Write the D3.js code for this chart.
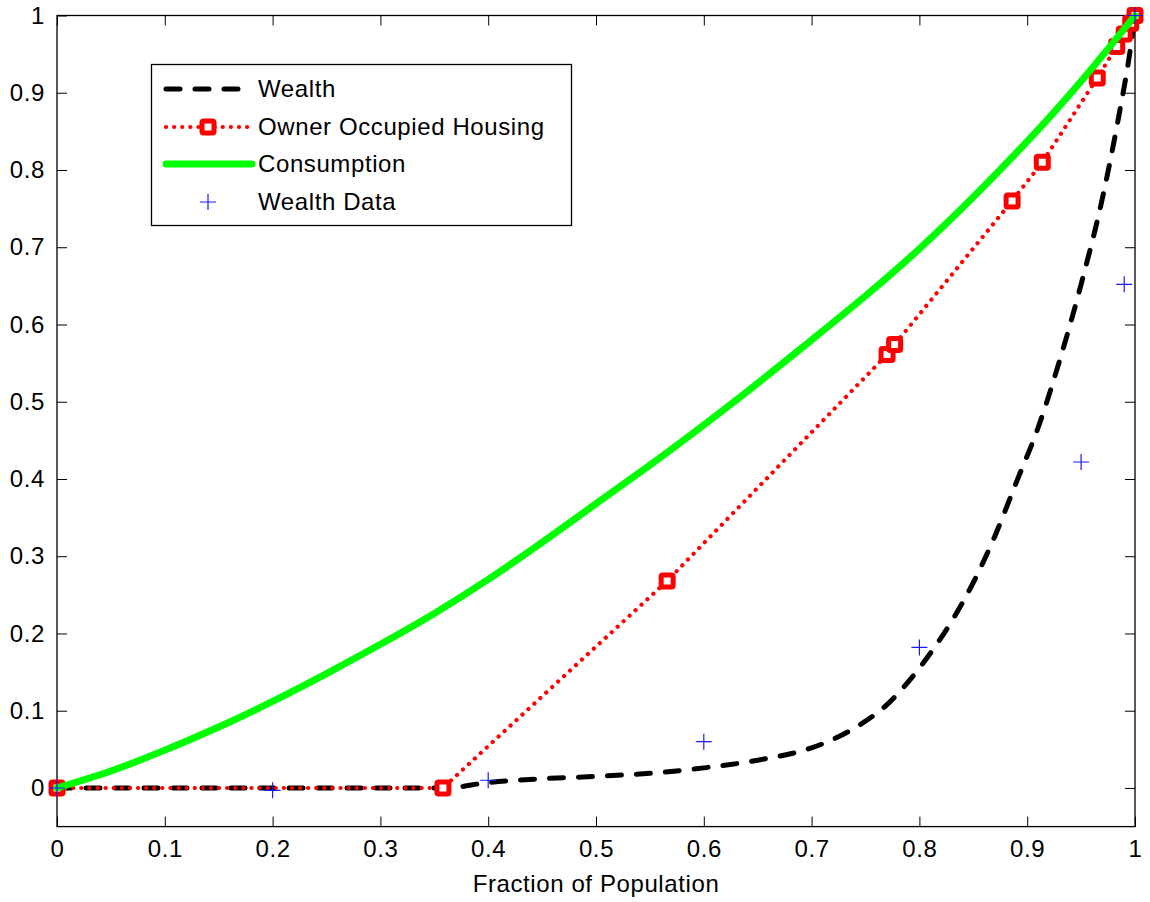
<!DOCTYPE html>
<html>
<head>
<meta charset="utf-8">
<script src="https://cdn.jsdelivr.net/npm/d3@7"></script>
<style>
  html, body { margin: 0; padding: 0; background: #fff; }
  svg { display: block; }
  text { font-family: Arial, "Liberation Sans", sans-serif; fill: #000; letter-spacing: 0.6px; }
</style>
</head>
<body>
<svg id="chart" width="1150" height="902"></svg>
<script>
// Lorenz curves: fraction of population vs. cumulative share
const consumptionX = [0, 0.05, 0.1, 0.15, 0.2, 0.25, 0.3, 0.35, 0.4, 0.45, 0.5, 0.55, 0.6, 0.65, 0.7, 0.75, 0.8, 0.85, 0.9, 0.95, 1];
const consumptionY = [0, 0.022, 0.049, 0.079, 0.112, 0.148, 0.186, 0.226, 0.270, 0.318, 0.368, 0.418, 0.470, 0.524, 0.580, 0.637, 0.698, 0.765, 0.837, 0.915, 1];

const wealthX = [0, 0.36, 0.4, 0.45, 0.5, 0.55, 0.6, 0.65, 0.7, 0.72, 0.745, 0.77, 0.79, 0.81, 0.83, 0.85, 0.87, 0.89, 0.91, 0.93, 0.95, 0.97, 0.985, 0.995, 1];
const wealthY = [0, 0, 0.007, 0.012, 0.015, 0.019, 0.026, 0.036, 0.052, 0.063, 0.082, 0.108, 0.138, 0.174, 0.216, 0.266, 0.326, 0.396, 0.466, 0.553, 0.652, 0.765, 0.870, 0.950, 1];

const housingX = [0, 0.358, 0.566, 0.770, 0.777, 0.886, 0.914, 0.965, 0.983, 0.990, 0.996, 1];
const housingY = [0, 0, 0.268, 0.561, 0.574, 0.760, 0.810, 0.919, 0.960, 0.976, 0.990, 1];

const wealthDataX = [0, 0.2, 0.4, 0.6, 0.8, 0.95, 0.99, 1];
const wealthDataY = [0, -0.003, 0.01, 0.06, 0.182, 0.422, 0.652, 1];

const xTicks = [0, 0.1, 0.2, 0.3, 0.4, 0.5, 0.6, 0.7, 0.8, 0.9, 1];
const yTicks = [0, 0.1, 0.2, 0.3, 0.4, 0.5, 0.6, 0.7, 0.8, 0.9, 1];
const legendLabels = ["Wealth", "Owner Occupied Housing", "Consumption", "Wealth Data"];

const svg = d3.select("#chart");
const plotLeft = 57, plotRight = 1135, plotTop = 15.5, plotBottom = 826.6;
const fontSize = 24;

const x = d3.scaleLinear().domain([0, 1]).range([plotLeft, plotRight]);
const y = d3.scaleLinear().domain([-0.05, 1]).range([plotBottom, plotTop]);

const pts = (xs, ys) => xs.map((v, i) => [v, ys[i]]);
const line = d3.line().x(d => x(d[0])).y(d => y(d[1]));

// Axes box with inward ticks on all four sides
const tickLen = 10;
const fmt = d => d3.format("")(+d.toFixed(1));

const axB = svg.append("g").attr("transform", `translate(0,${plotBottom})`)
  .call(d3.axisBottom(x).tickValues(xTicks).tickSizeInner(-tickLen).tickSizeOuter(0).tickPadding(13).tickFormat(fmt));
const axT = svg.append("g").attr("transform", `translate(0,${plotTop})`)
  .call(d3.axisTop(x).tickValues(xTicks).tickSizeInner(-tickLen).tickSizeOuter(0).tickFormat(""));
const axL = svg.append("g").attr("transform", `translate(${plotLeft},0)`)
  .call(d3.axisLeft(y).tickValues(yTicks).tickSizeInner(-tickLen).tickSizeOuter(0).tickPadding(12).tickFormat(fmt));
const axR = svg.append("g").attr("transform", `translate(${plotRight},0)`)
  .call(d3.axisRight(y).tickValues(yTicks).tickSizeInner(-tickLen).tickSizeOuter(0).tickFormat(""));

[axB, axT, axL, axR].forEach(g => {
  g.select(".domain").remove();
  g.selectAll(".tick line").attr("stroke", "#000").attr("stroke-width", 1);
  g.selectAll(".tick text").attr("font-size", fontSize).attr("font-family", "Arial, 'Liberation Sans', sans-serif").attr("fill", "#000");
});
axB.selectAll(".tick text").attr("dy", "0.71em");

svg.append("rect")
  .attr("x", plotLeft).attr("y", plotTop)
  .attr("width", plotRight - plotLeft).attr("height", plotBottom - plotTop)
  .attr("fill", "none").attr("stroke", "#000").attr("stroke-width", 1.3);

svg.append("text")
  .attr("x", x(0.5)).attr("y", 892)
  .attr("text-anchor", "middle").attr("font-size", fontSize)
  .text("Fraction of Population");

const plot = svg.append("g");

// Wealth (dashed black)
plot.append("path").datum(pts(wealthX, wealthY))
  .attr("d", d3.line().x(d => x(d[0])).y(d => y(d[1])).curve(d3.curveMonotoneX))
  .attr("fill", "none")
  .attr("stroke", "#000").attr("stroke-width", 5)
  .attr("stroke-linecap", "round").attr("stroke-dasharray", "14,15");

// Owner occupied housing (dotted red with square markers)
plot.append("path").datum(pts(housingX, housingY))
  .attr("d", line).attr("fill", "none")
  .attr("stroke", "#ff0000").attr("stroke-width", 4.2)
  .attr("stroke-linecap", "round").attr("stroke-dasharray", "0.1,8");

const sq = 12;
plot.selectAll("rect.house").data(pts(housingX, housingY)).join("rect")
  .attr("class", "house")
  .attr("x", d => x(d[0]) - sq / 2).attr("y", d => y(d[1]) - sq / 2)
  .attr("width", sq).attr("height", sq)
  .attr("rx", 1.5)
  .attr("fill", "#fff").attr("stroke", "#ff0000").attr("stroke-width", 5);

// Consumption (solid green)
plot.append("path").datum(pts(consumptionX, consumptionY))
  .attr("d", d3.line().x(d => x(d[0])).y(d => y(d[1])).curve(d3.curveNatural))
  .attr("fill", "none")
  .attr("stroke", "#00ff00").attr("stroke-width", 7)
  .attr("stroke-linecap", "round");

// Wealth data (blue plus signs)
const ps = 8;
const plus = d => `M${x(d[0]) - ps},${y(d[1])}H${x(d[0]) + ps}M${x(d[0])},${y(d[1]) - ps}V${y(d[1]) + ps}`;
plot.selectAll("path.wd").data(pts(wealthDataX, wealthDataY)).join("path")
  .attr("class", "wd").attr("d", plus)
  .attr("stroke", "#1a1aff").attr("stroke-width", 1.2).attr("fill", "none");

// Legend
const lg = svg.append("g");
lg.append("rect").attr("x", 151.5).attr("y", 64.5).attr("width", 420).attr("height", 161)
  .attr("fill", "#fff").attr("stroke", "#000").attr("stroke-width", 1.3);

const rowY = [89, 127, 164, 202];
const x0 = 166, x1 = 250, tx = 258;

lg.append("line").attr("x1", x0).attr("x2", x1).attr("y1", rowY[0]).attr("y2", rowY[0])
  .attr("stroke", "#000").attr("stroke-width", 5).attr("stroke-linecap", "round")
  .attr("stroke-dasharray", "14,15");

lg.append("line").attr("x1", x0).attr("x2", x1).attr("y1", rowY[1]).attr("y2", rowY[1])
  .attr("stroke", "#ff0000").attr("stroke-width", 4.2).attr("stroke-linecap", "round")
  .attr("stroke-dasharray", "0.1,8");
lg.append("rect").attr("x", (x0 + x1) / 2 - sq / 2).attr("y", rowY[1] - sq / 2)
  .attr("width", sq).attr("height", sq).attr("rx", 1.5)
  .attr("fill", "#fff").attr("stroke", "#ff0000").attr("stroke-width", 5);

lg.append("line").attr("x1", x0).attr("x2", x1 + 2).attr("y1", rowY[2]).attr("y2", rowY[2])
  .attr("stroke", "#00ff00").attr("stroke-width", 7).attr("stroke-linecap", "round");

const cx = (x0 + x1) / 2;
lg.append("path").attr("d", `M${cx - ps},${rowY[3]}H${cx + ps}M${cx},${rowY[3] - ps}V${rowY[3] + ps}`)
  .attr("stroke", "#1a1aff").attr("stroke-width", 1.2);

lg.selectAll("text.lab").data(legendLabels).join("text")
  .attr("class", "lab")
  .attr("x", tx).attr("y", (d, i) => rowY[i])
  .attr("dy", "0.35em").attr("font-size", fontSize)
  .text(d => d);
</script>
</body>
</html>
